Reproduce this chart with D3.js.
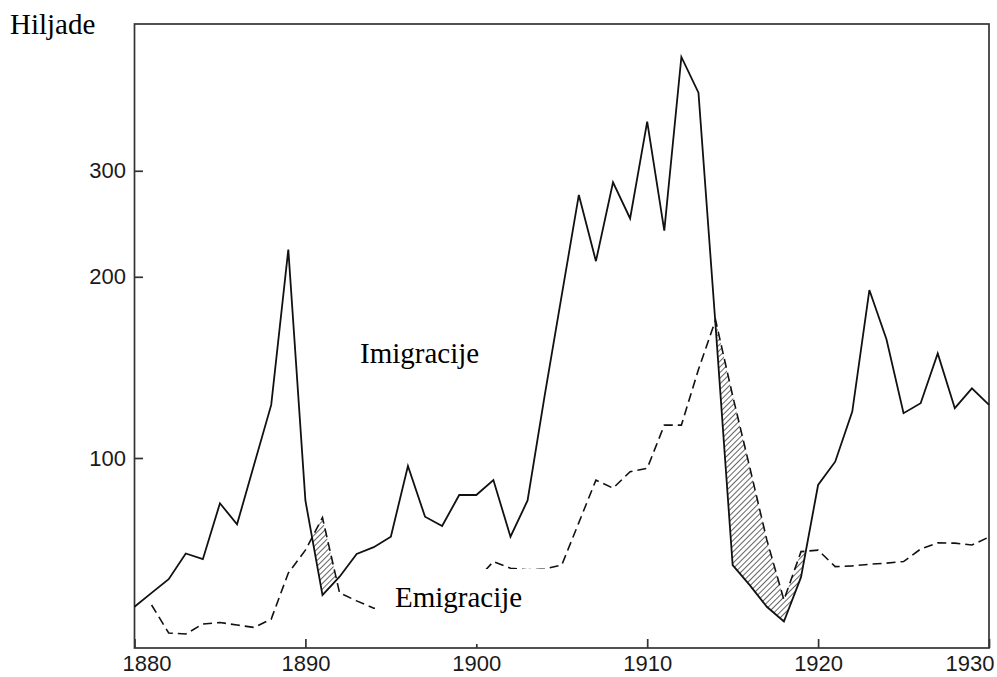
<!DOCTYPE html>
<html>
<head>
<meta charset="utf-8">
<script src="https://cdn.jsdelivr.net/npm/d3@7/dist/d3.min.js"></script>
<style>
  html, body { margin: 0; padding: 0; background: #fff; }
  #chart { width: 997px; height: 677px; }
  .tick text { font-family: "Liberation Sans", Arial, sans-serif; font-size: 22px; fill: #1a1a1a; }
  .label { font-family: "Liberation Serif", "Times New Roman", serif; font-size: 29px; fill: #000; }
</style>
</head>
<body>
<div id="chart"></div>
<script>
// Years on the x axis
const years = d3.range(1880, 1931);

// Immigration, thousands per year (solid line)
const immigration = [
    56.6, 59.7, 62.9, 69.4, 67.9, 84.1, 77.6, 97.5, 122.5, 222,    // 1880-1889
    85, 59.2, 63.5, 69.3, 71.1, 74.0, 97.0, 79.9, 77.1, 86.8,      // 1890-1899
    86.8, 91.9, 74.0, 85, 126.9, 186.4, 273.5, 212.3, 287, 250,    // 1900-1909
    362, 238.6, 463.6, 404.4, 166, 66.4, 61.5, 56.6, 53.5, 63.4,   // 1910-1919
    90.2, 98.6, 119.4, 190.1, 157.5, 118.7, 123.3, 149.2, 121, 130.5, // 1920-1929
    122.5                                                          // 1930
];

// Emigration, thousands per year (dashed line), no value for 1880
const emigration = [
    null, 57.0, 51.2, 51.0, 53.0, 53.3, 52.8, 52.3, 54.0, 64.4,    // 1880-1889
    70.3, 79.6, 59.7, 57.9, 56.3, 56.5, 57.0, 58.0, 59.0, 61.0,    // 1890-1899
    62.7, 67.3, 65.6, 65.2, 65.4, 66.4, 78.1, 91.9, 89.1, 94.9,    // 1900-1909
    96.1, 113.4, 113.4, 140.3, 169.5, 126.9, 96.5, 73.1, 58.1, 69.9, // 1910-1919
    70.3, 66.0, 66.2, 66.6, 66.9, 67.3, 70.6, 72.3, 72.2, 71.7,    // 1920-1929
    73.9                                                           // 1930
];

const xTicks = [1880, 1890, 1900, 1910, 1920, 1930];
const yTicks = [100, 200, 300];

document.addEventListener('DOMContentLoaded', function() {
    const width = 997, height = 677;
    const frame = { left: 134.5, right: 989, top: 24, bottom: 648 };

    const rows = years.map((yr, i) => ({ year: yr, imm: immigration[i], em: emigration[i] }));
    const both = rows.filter(d => d.em != null);

    const svg = d3.select("#chart").append("svg")
        .attr("width", width)
        .attr("height", height);

    // Scales: linear years, log thousands
    const x = d3.scaleLinear()
        .domain([1880, 1930])
        .range([frame.left, frame.right]);

    const y = d3.scaleLog()
        .domain([100, 300])
        .range([458, 458 - 602 * Math.log10(3)]);

    // Hatch pattern for net emigration periods
    const defs = svg.append("defs");
    const pattern = defs.append("pattern")
        .attr("id", "hatch")
        .attr("patternUnits", "userSpaceOnUse")
        .attr("width", 4)
        .attr("height", 4)
        .attr("patternTransform", "rotate(45)");
    pattern.append("line")
        .attr("x1", 0).attr("y1", 0)
        .attr("x2", 0).attr("y2", 4)
        .attr("stroke", "#111")
        .attr("stroke-width", 1.3);

    // Clip: everything above the immigration line
    defs.append("clipPath")
        .attr("id", "above-imm")
        .append("path")
        .attr("d", d3.area()
            .x(d => x(d.year))
            .y0(frame.top)
            .y1(d => y(d.imm))(rows));

    // Frame
    svg.append("rect")
        .attr("x", frame.left)
        .attr("y", frame.top)
        .attr("width", frame.right - frame.left)
        .attr("height", frame.bottom - frame.top)
        .attr("fill", "none")
        .attr("stroke", "#333")
        .attr("stroke-width", 1.7);

    // Axes with inward ticks
    const xAxis = svg.append("g")
        .attr("transform", `translate(0,${frame.bottom})`)
        .call(d3.axisBottom(x)
            .tickValues(xTicks)
            .tickFormat(d3.format("d"))
            .tickSizeInner(-9)
            .tickSizeOuter(0)
            .tickPadding(7));
    xAxis.select(".domain").remove();
    xAxis.selectAll(".tick line").attr("stroke", "#333").attr("stroke-width", 1.7);
    // end labels sit inside the picture
    xAxis.selectAll(".tick text")
        .filter(d => d === 1880)
        .attr("x", 12);
    xAxis.selectAll(".tick text")
        .filter(d => d === 1930)
        .attr("text-anchor", "end")
        .attr("x", 5);

    const yAxis = svg.append("g")
        .attr("transform", `translate(${frame.left - 0.5},0)`)
        .call(d3.axisLeft(y)
            .tickValues(yTicks)
            .tickFormat(d3.format("d"))
            .tickSizeInner(-9)
            .tickSizeOuter(0)
            .tickPadding(8));
    yAxis.select(".domain").remove();
    yAxis.selectAll(".tick line").attr("stroke", "#333").attr("stroke-width", 1.7);

    // Hatched areas where emigration exceeds immigration
    svg.append("path")
        .attr("d", d3.area()
            .x(d => x(d.year))
            .y0(d => y(d.imm))
            .y1(d => y(d.em))(both))
        .attr("fill", "url(#hatch)")
        .attr("clip-path", "url(#above-imm)");

    // Emigration line
    svg.append("path")
        .datum(both)
        .attr("d", d3.line().x(d => x(d.year)).y(d => y(d.em)))
        .attr("fill", "none")
        .attr("stroke", "#111")
        .attr("stroke-width", 1.6)
        .attr("stroke-dasharray", "9,5");

    // Immigration line
    svg.append("path")
        .datum(rows)
        .attr("d", d3.line().x(d => x(d.year)).y(d => y(d.imm)))
        .attr("fill", "none")
        .attr("stroke", "#111")
        .attr("stroke-width", 1.8)
        .attr("stroke-linejoin", "miter");

    // White patch behind the emigration label
    svg.append("rect")
        .attr("x", 375)
        .attr("y", 569)
        .attr("width", 193)
        .attr("height", 75)
        .attr("fill", "#fff");

    // Labels
    svg.append("text").attr("class", "label")
        .attr("x", 10).attr("y", 34)
        .text("Hiljade");

    svg.append("text").attr("class", "label")
        .attr("x", 360).attr("y", 363)
        .text("Imigracije");

    svg.append("text").attr("class", "label")
        .attr("x", 395).attr("y", 607)
        .text("Emigracije");
});
</script>
</body>
</html>
